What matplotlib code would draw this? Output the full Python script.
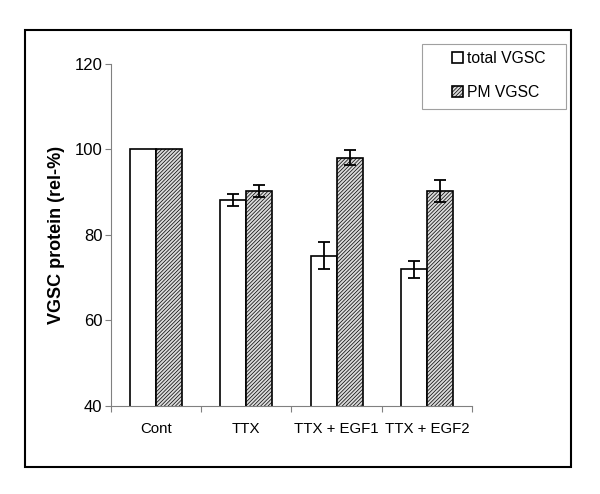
import matplotlib.pyplot as plt
import matplotlib.patches as mpatches
import numpy as np

plt.rcParams['font.family'] = ['Liberation Sans', 'DejaVu Sans']
plt.rcParams['hatch.color'] = '#808080'
plt.rcParams['hatch.linewidth'] = 0.5

# groups and values (rel-%)
groups = ['Cont', 'TTX', 'TTX + EGF1', 'TTX + EGF2']
total_vgsc = [100, 88.2, 75.1, 71.9]
total_err = [0, 1.4, 3.2, 2.0]
pm_vgsc = [100, 90.2, 98.1, 90.2]
pm_err = [0, 1.4, 1.8, 2.6]

fig = plt.figure(figsize=(6.0, 4.94), dpi=100)
ax = fig.add_axes([0.1845, 0.1787, 0.6025, 0.6917])

x = np.arange(len(groups))
w = 0.287
err_kw = dict(ecolor='black', elinewidth=1.3, capsize=4, capthick=1.3)

# Cont bars have no error bars
ax.bar(x - w / 2, total_vgsc, w, color='white', edgecolor='black', linewidth=1.2,
       label='total VGSC', zorder=2)
ax.bar(x + w / 2, pm_vgsc, w, color='#dadada', edgecolor='black', linewidth=1.2,
       hatch='/////////', label='PM VGSC', zorder=2)
ax.errorbar(x[1:] - w / 2, total_vgsc[1:], yerr=total_err[1:], fmt='none', zorder=3, **err_kw)
ax.errorbar(x[1:] + w / 2, pm_vgsc[1:], yerr=pm_err[1:], fmt='none', zorder=3, **err_kw)

ax.set_ylim(40, 120)
ax.set_xlim(-0.5, 3.5)
ax.set_yticks([40, 60, 80, 100, 120])
ax.set_xticks(x)
ax.set_xticklabels(groups, fontsize=10.8)
ax.tick_params(axis='x', length=0, pad=12)
ax.tick_params(axis='y', labelsize=12, length=4, color='#808080', width=0.8, pad=2)
# category boundary ticks on the x axis
ax.set_xticks(np.arange(-0.5, 4.0, 1.0), minor=True)
ax.tick_params(axis='x', which='minor', length=4, color='#808080', width=0.8)

for s in ['top', 'right']:
    ax.spines[s].set_visible(False)
for s in ['left', 'bottom']:
    ax.spines[s].set_color('#808080')
    ax.spines[s].set_linewidth(0.8)

ax.set_ylabel('VGSC protein (rel-%)', fontsize=13, fontweight='bold', labelpad=7)

# legend with its own frame (wide left padding as in the original)
fig.legend(loc='upper left', bbox_to_anchor=(447 / 600, 1 - 46 / 494),
           fontsize=11.3, frameon=False,
           handlelength=0.7, handleheight=0.7, handletextpad=0.3,
           labelspacing=1.25, borderpad=0.3, borderaxespad=0)
fig.patches.append(mpatches.Rectangle((422 / 600, 1 - 109 / 494), 144 / 600, 65 / 494,
                                      transform=fig.transFigure, fill=False,
                                      edgecolor='#a0a0a0', linewidth=0.8))

# outer border
fig.patches.append(mpatches.Rectangle((25 / 600, 1 - 467 / 494), 546 / 600, 437 / 494,
                                      transform=fig.transFigure, fill=False,
                                      edgecolor='black', linewidth=1.5))

fig.savefig('out.png', dpi=100)
